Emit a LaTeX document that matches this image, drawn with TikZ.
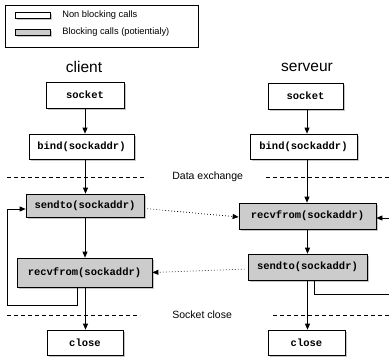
\documentclass[tikz,border=0pt]{standalone}
\usepackage{fontspec}
\setmainfont{Liberation Sans}
\setmonofont{Liberation Mono}
\usetikzlibrary{arrows.meta,shadows}
\definecolor{blockgray}{gray}{0.8}
\tikzset{
  call/.style={draw, fill=white, inner sep=0pt, font=\fontsize{10.5}{12}\selectfont\ttfamily\bfseries,
    drop shadow={shadow xshift=1.5pt, shadow yshift=-1.5pt, fill=black!45}},
  block/.style={call, fill=blockgray},
  tip/.style={-{Triangle[length=6pt,width=5pt]}},
  every edge/.style={draw, tip},
  msg/.style={dash pattern=on 0.8pt off 2.2pt, tip, shorten <=3pt},
  sep/.style={dash pattern=on 4pt off 3pt},
  lbl/.style={anchor=west, inner sep=0pt, font=\fontsize{10.5}{12}\selectfont},
}

\begin{document}
\begin{tikzpicture}[x=1pt,y=-1pt,line width=0.7pt]
  \useasboundingbox (0,0) rectangle (389,357);

  % legende
  \node[draw, fill=white, minimum width=193pt, minimum height=42pt, inner sep=0pt,
    drop shadow={shadow xshift=1pt, shadow yshift=-1pt, fill=black!40}] at (101.5,26) (legend) {};
  \node[call, minimum width=35pt, minimum height=6pt] at (32.5,15) (legnon) {};
  \node[block, minimum width=35pt, minimum height=6pt] at (32.5,32) (legblk) {};
  \node[anchor=west, inner sep=0pt, font=\fontsize{9.3}{11}\selectfont] at (62,15) (tnon) {Non blocking calls};
  \node[anchor=west, inner sep=0pt, font=\fontsize{9.3}{11}\selectfont] at (62,32) (tblk) {Blocking calls (potientialy)};

  \node[font=\fontsize{15.5}{18}\selectfont] at (84,67) (client) {client};
  \node[font=\fontsize{15.5}{18}\selectfont] at (307,67) (serveur) {serveur};

  % client
  \node[call, minimum width=78pt, minimum height=26pt] at (85,95) (csock) {socket};
  \node[call, minimum width=105pt, minimum height=25pt] at (81.5,146.5) (cbind) {bind(sockaddr)};
  \node[block, minimum width=118pt, minimum height=23pt] at (85,205.5) (csend) {sendto(sockaddr)};
  \node[block, minimum width=135pt, minimum height=29pt] at (84.5,272.5) (crecv) {recvfrom(sockaddr)};
  \node[call, minimum width=76pt, minimum height=25pt] at (85,342.5) (cclose) {close};

  % serveur
  \node[call, minimum width=75pt, minimum height=26pt] at (305.5,96) (ssock) {socket};
  \node[call, minimum width=107pt, minimum height=25pt] at (303.5,146.5) (sbind) {bind(sockaddr)};
  \node[block, minimum width=137pt, minimum height=26pt] at (307.5,216) (srecv) {recvfrom(sockaddr)};
  \node[block, minimum width=119pt, minimum height=26pt] at (307.5,267) (ssend) {sendto(sockaddr)};
  \node[call, minimum width=77pt, minimum height=25pt] at (306.5,342.5) (sclose) {close};

  % separations
  \draw[sep] (7,177) -- (147,177);
  \draw[sep] (266,177) -- (389,177);
  \draw[sep] (7,315) -- (140,315);
  \draw[sep] (273,315) -- (389,315);
  \node[lbl] at (172,177) (tdata) {Data exchange};
  \node[lbl] at (172,315) (tclose) {Socket close};

  \draw (csock.south) edge (csock.south |- cbind.north);
  \draw ([xshift=4pt]cbind.south) edge ([xshift=4pt]cbind.south |- csend.north);
  \draw (csend.south) edge (csend.south |- crecv.north);
  \draw ([xshift=1pt]crecv.south) edge ([xshift=1pt]crecv.south |- cclose.north);

  \draw ([xshift=1.5pt]ssock.south) edge ([xshift=1.5pt]ssock.south |- sbind.north);
  \draw ([xshift=3.5pt]sbind.south) edge ([xshift=3.5pt]sbind.south |- srecv.north);
  \draw (srecv.south) edge (srecv.south |- ssend.north);
  \draw (ssend.south) edge (ssend.south |- sclose.north);

  % boucles
  \coordinate (cloop) at (7,305);
  \coordinate (sloop) at (400,294);
  \draw[tip] ([xshift=-7pt]crecv.south) |- (cloop) |- ([yshift=-3.5pt]csend.west);
  \draw[tip] ([xshift=7pt]ssend.south) |- (sloop) |- ([yshift=-2pt]srecv.east);

  \draw[msg] ([yshift=-3pt]csend.east) -- ([yshift=-1pt]srecv.west);
  \draw[msg] ([yshift=-2pt]ssend.west) -- (crecv.east);
\end{tikzpicture}
\end{document}
